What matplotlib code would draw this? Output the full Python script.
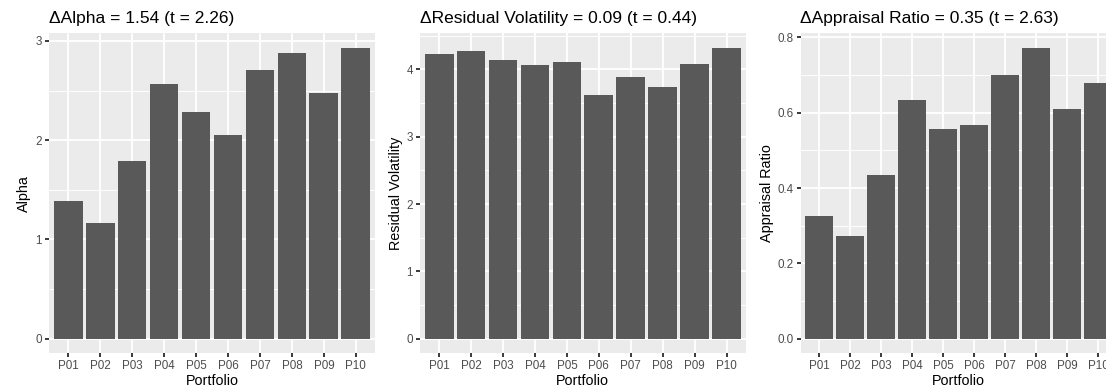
import matplotlib
matplotlib.use("Agg")
import matplotlib.pyplot as plt
import numpy as np

portfolios = ["P01", "P02", "P03", "P04", "P05", "P06", "P07", "P08", "P09", "P10"]
alpha = [1.39, 1.17, 1.79, 2.57, 2.28, 2.05, 2.71, 2.88, 2.48, 2.93]
resid_vol = [4.23, 4.28, 4.14, 4.07, 4.11, 3.62, 3.88, 3.74, 4.08, 4.32]
appraisal = [0.327, 0.274, 0.434, 0.633, 0.557, 0.566, 0.700, 0.772, 0.610, 0.680]

titles = ["\u0394Alpha = 1.54 (t = 2.26)",
          "\u0394Residual Volatility = 0.09 (t = 0.44)",
          "\u0394Appraisal Ratio = 0.35 (t = 2.63)"]
ylabels = ["Alpha", "Residual Volatility", "Appraisal Ratio"]
xlabel = "Portfolio"
major_ticks = [[0, 1, 2, 3], [0, 1, 2, 3, 4], [0.0, 0.2, 0.4, 0.6, 0.8]]
major_labels = [["0", "1", "2", "3"], ["0", "1", "2", "3", "4"],
                ["0.0", "0.2", "0.4", "0.6", "0.8"]]
minor_ticks = [[0.5, 1.5, 2.5], [0.5, 1.5, 2.5, 3.5, 4.5], [0.1, 0.3, 0.5, 0.7]]
series = [alpha, resid_vol, appraisal]

W, H = 1106, 391
plt.rcParams["font.family"] = ["Liberation Sans", "DejaVu Sans"]
fig = plt.figure(figsize=(W / 100, H / 100), dpi=100)

# panel pixel boxes: left, right, ylabel x-center
panels = [(49, 375, 24), (420, 745.7, 396), (800.5, 1116.7, 766.7)]
top_px, bot_px = 33.3, 353.3

for i, (l, r, ylx) in enumerate(panels):
    ax = fig.add_axes([l / W, 1 - bot_px / H, (r - l) / W, (bot_px - top_px) / H])
    vals = series[i]
    x = np.arange(len(portfolios))
    ax.set_facecolor("#EBEBEB")
    ax.bar(x, vals, width=0.9, color="#595959", linewidth=0, zorder=3)
    m = max(vals)
    ax.set_ylim(-0.05 * m, 1.05 * m)
    ax.set_xlim(-0.6, len(portfolios) - 0.4)
    ax.set_xticks(x)
    ax.set_xticklabels(portfolios)
    ax.set_yticks(major_ticks[i])
    ax.set_yticklabels(major_labels[i])
    ax.set_yticks(minor_ticks[i], minor=True)
    ax.grid(True, which="major", color="white", linewidth=1.36, zorder=0)
    ax.grid(True, which="minor", axis="y", color="white", linewidth=0.68, zorder=0)
    ax.set_axisbelow(True)
    for s in ax.spines.values():
        s.set_visible(False)
    ax.tick_params(axis="both", which="major", colors="#333333", length=2.6,
                   width=1.36, labelsize=8.35, labelcolor="#4D4D4D")
    ax.tick_params(axis="x", pad=2.2)
    ax.tick_params(axis="y", pad=2.4)
    ax.tick_params(axis="y", which="minor", length=0)
    # title
    fig.text(l / W, 1 - 22.5 / H, titles[i], ha="left", va="baseline",
             fontsize=12.5, color="black")
    # y label
    fig.text(ylx / W, 1 - (top_px + bot_px) / 2 / H, ylabels[i], rotation=90,
             ha="center", va="center", fontsize=10.4, color="black")
    # x label
    fig.text((l + r) / 2 / W, 1 - 385 / H, xlabel, ha="center", va="baseline",
             fontsize=10.4, color="black")

fig.savefig("out.png", dpi=100, facecolor="white")
